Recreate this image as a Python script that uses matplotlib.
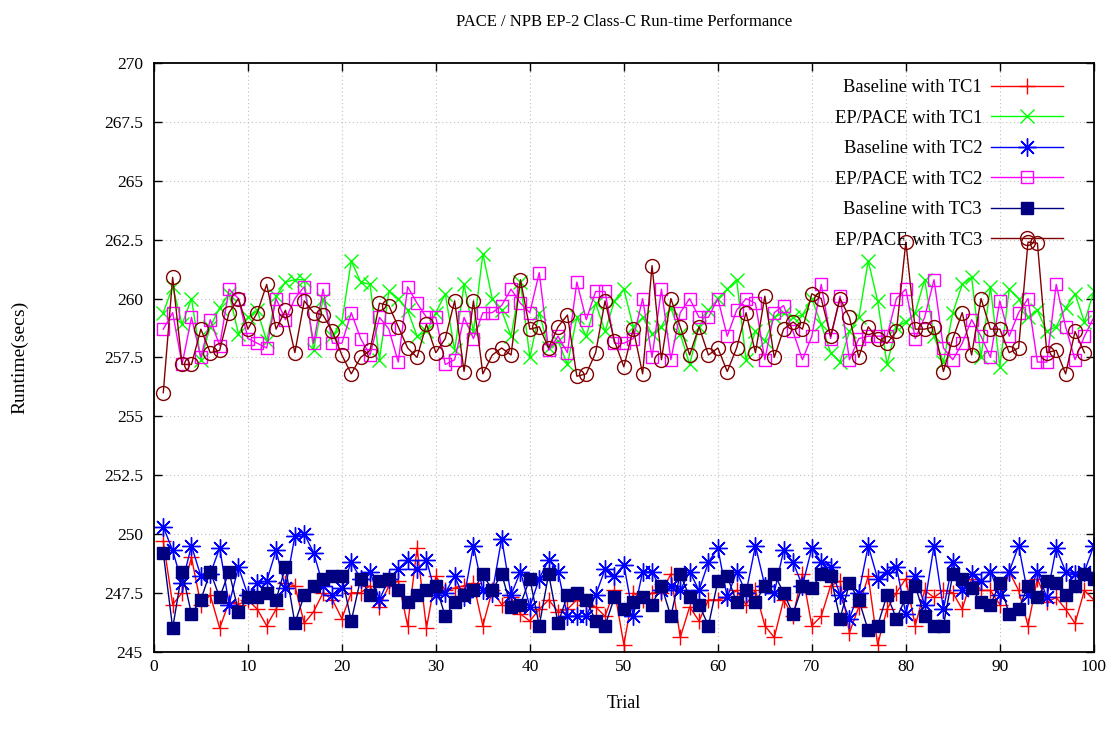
import matplotlib
matplotlib.use("Agg")
import matplotlib.pyplot as plt
from matplotlib.ticker import MultipleLocator, FormatStrFormatter

plt.rcParams['font.family'] = ['Liberation Serif', 'DejaVu Serif']

trials = list(range(1, 101))

base_tc1 = [249.7, 247.0, 247.5, 249.0, 247.0, 247.4, 246.0, 247.1, 247.0, 247.2,
            246.8, 246.1, 246.8, 247.9, 247.8, 246.2, 246.7, 247.5, 247.2, 246.4,
            247.5, 247.5, 247.8, 246.9, 247.8, 248.0, 246.1, 249.4, 246.0, 248.2,
            247.6, 247.7, 247.8, 247.9, 246.1, 247.6, 247.0, 247.3, 246.6, 246.3,
            246.8, 247.2, 246.7, 246.8, 247.2, 247.0, 246.9, 246.5, 247.6, 245.3,
            247.5, 247.2, 247.5, 247.5, 248.3, 245.6, 246.9, 246.3, 247.2, 247.2,
            247.3, 247.6, 247.0, 247.6, 246.1, 245.6, 247.2, 246.5, 248.3, 246.1,
            246.5, 247.8, 248.0, 245.8, 246.9, 248.2, 245.3, 246.8, 247.5, 248.1,
            246.1, 247.6, 247.3, 247.6, 247.5, 246.8, 248.1, 247.6, 247.6, 247.0,
            248.4, 247.6, 246.1, 248.1, 247.1, 247.3, 246.8, 246.2, 247.6, 247.2]

pace_tc1 = [259.4, 260.5, 258.9, 260.0, 257.4, 258.8, 259.6, 260.2, 258.5, 259.2,
            259.5, 258.2, 260.1, 260.7, 260.8, 260.8, 257.8, 260.0, 258.4, 259.0,
            261.6, 260.7, 260.6, 257.4, 260.3, 260.0, 259.5, 258.4, 258.6, 259.4,
            260.2, 257.8, 260.6, 258.6, 261.9, 260.0, 259.5, 258.4, 260.7, 257.5,
            259.4, 257.9, 258.2, 257.2, 259.2, 258.4, 259.8, 258.6, 259.9, 260.4,
            258.8, 259.2, 258.5, 258.8, 259.6, 258.5, 257.2, 258.8, 259.5, 260.0,
            260.4, 260.8, 257.4, 258.6, 258.2, 259.2, 259.4, 259.2, 259.3, 260.0,
            258.9, 257.7, 257.3, 258.6, 259.2, 261.6, 259.9, 257.2, 258.8, 259.0,
            259.4, 260.8, 258.4, 257.3, 259.4, 260.6, 260.9, 257.5, 260.5, 257.1,
            260.4, 260.0, 259.2, 259.5, 258.6, 258.8, 259.6, 260.2, 259.0, 260.3]

base_tc2 = [250.3, 249.3, 247.9, 249.5, 248.2, 248.3, 249.4, 247.0, 248.6, 247.4,
            247.9, 248.0, 249.3, 247.7, 249.9, 250.0, 249.2, 247.8, 247.4, 247.7,
            248.8, 248.1, 248.4, 247.2, 248.1, 248.5, 248.9, 248.5, 248.9, 247.4,
            247.5, 248.2, 247.3, 249.5, 247.6, 247.5, 249.8, 247.4, 248.4, 246.9,
            248.1, 248.9, 248.4, 246.5, 246.5, 246.5, 247.4, 248.5, 248.2, 248.7,
            246.5, 248.4, 248.4, 247.6, 247.8, 247.6, 248.4, 247.6, 248.8, 249.4,
            247.3, 248.4, 247.5, 249.5, 247.8, 247.5, 249.3, 248.8, 247.8, 249.4,
            248.8, 248.6, 247.4, 246.4, 247.5, 249.5, 248.1, 248.4, 248.6, 246.6,
            248.2, 247.0, 249.5, 246.8, 248.8, 247.6, 248.3, 248.0, 248.4, 247.4,
            248.4, 249.5, 247.4, 248.4, 247.3, 249.4, 248.4, 248.3, 248.4, 249.5]

pace_tc2 = [258.7, 259.4, 257.2, 259.2, 257.5, 259.1, 258.0, 260.4, 260.0, 258.3,
            258.1, 257.9, 260.0, 259.1, 260.0, 260.5, 258.1, 260.4, 258.1, 258.1,
            259.4, 258.3, 257.6, 259.2, 258.7, 257.3, 260.5, 259.8, 259.2, 259.2,
            257.2, 257.4, 259.2, 258.3, 259.4, 259.4, 259.7, 260.4, 259.8, 259.4,
            261.1, 257.8, 258.4, 257.7, 260.7, 259.1, 260.3, 260.3, 258.1, 258.1,
            258.3, 260.0, 257.5, 260.4, 257.4, 259.4, 260.0, 259.2, 259.2, 260.0,
            258.4, 259.5, 260.0, 259.8, 257.4, 259.4, 259.7, 258.6, 257.4, 258.4,
            260.6, 258.3, 260.1, 257.4, 258.3, 258.4, 258.4, 258.4, 260.0, 260.4,
            258.3, 259.2, 260.8, 257.9, 257.4, 258.1, 259.1, 258.4, 257.5, 259.9,
            258.4, 259.4, 260.0, 257.3, 257.3, 260.6, 258.8, 257.4, 258.4, 259.2]

base_tc3 = [249.2, 246.0, 248.4, 246.6, 247.2, 248.4, 247.3, 248.4, 246.7, 247.3,
            247.3, 247.5, 247.2, 248.6, 246.2, 247.4, 247.8, 248.1, 248.2, 248.2,
            246.3, 248.1, 247.4, 248.0, 248.1, 247.6, 247.1, 247.4, 247.6, 247.8,
            246.5, 247.1, 247.4, 247.6, 248.3, 247.6, 248.3, 246.9, 247.0, 248.1,
            246.1, 248.3, 246.2, 247.4, 247.5, 247.2, 246.3, 246.1, 247.3, 246.8,
            247.1, 247.3, 247.0, 247.8, 246.5, 248.3, 247.3, 247.0, 246.1, 248.0,
            248.2, 247.1, 247.6, 247.1, 247.8, 248.3, 247.5, 246.6, 247.8, 247.7,
            248.3, 248.2, 246.4, 247.9, 247.2, 245.9, 246.1, 247.4, 246.4, 247.3,
            247.8, 246.5, 246.1, 246.1, 248.3, 248.1, 247.7, 247.1, 247.0, 247.9,
            246.6, 246.8, 247.8, 247.3, 248.0, 247.9, 247.4, 247.8, 248.3, 248.1]

pace_tc3 = [256.0, 260.9, 257.2, 257.2, 258.7, 257.7, 257.8, 259.4, 260.0, 258.7,
            259.4, 260.6, 258.7, 259.5, 257.7, 259.9, 259.4, 259.3, 258.6, 257.6,
            256.8, 257.5, 257.8, 259.8, 259.7, 258.8, 257.9, 257.5, 258.9, 257.7,
            258.3, 259.9, 256.9, 259.9, 256.8, 257.6, 257.9, 257.6, 260.8, 258.7,
            258.8, 257.9, 258.8, 259.3, 256.7, 256.8, 257.7, 259.9, 258.2, 257.1,
            258.7, 256.8, 261.4, 257.4, 260.0, 258.8, 257.6, 258.8, 257.6, 257.9,
            256.9, 257.9, 259.4, 257.7, 260.1, 257.5, 258.7, 259.0, 258.7, 260.2,
            260.0, 258.4, 260.0, 259.2, 257.5, 258.8, 258.3, 258.1, 258.6, 262.4,
            258.7, 258.7, 258.8, 256.9, 258.3, 259.4, 257.6, 260.0, 258.7, 258.7,
            257.7, 257.9, 262.4, 262.35, 257.7, 257.8, 256.8, 258.6, 257.7]

fig = plt.figure(figsize=(11.15, 7.43), dpi=100)
ax = fig.add_axes([0.138, 0.123, 0.843, 0.792])

lw = 1.0
ax.plot(trials, base_tc1, color='#ff0000', lw=lw, marker='+', ms=12, mew=1.0,
        label='Baseline with TC1')
ax.plot(trials, pace_tc1, color='#00ff00', lw=lw, marker='x', ms=10, mew=1.0,
        label='EP/PACE with TC1')
ax.plot(trials, base_tc2, color='#0000ff', lw=lw, marker=(8, 2, 0), ms=13, mew=1.0,
        label='Baseline with TC2')
ax.plot(trials, pace_tc2, color='#ff00ff', lw=lw, marker='s', ms=8.5, mew=1.0,
        mfc='none', label='EP/PACE with TC2')
ax.plot(trials, base_tc3, color='#000080', lw=lw, marker='s', ms=9,
        label='Baseline with TC3')
ax.plot(trials[:len(pace_tc3)], pace_tc3, color='#800000', lw=lw, marker='o', ms=10,
        mew=1.0, mfc='none', label='EP/PACE with TC3')

ax.set_xlim(0, 100)
ax.set_ylim(245, 270)
ax.xaxis.set_major_locator(MultipleLocator(10))
ax.yaxis.set_major_locator(MultipleLocator(2.5))
ax.yaxis.set_major_formatter(FormatStrFormatter('%g'))
ax.tick_params(direction='in', length=6, width=1, top=True, right=True,
               labelsize=12.5)
ax.tick_params(axis='y', pad=8)
ax.tick_params(axis='x', pad=5)
for s in ax.spines.values():
    s.set_linewidth(1.3)
ax.grid(True, color='#c0c0c0', linestyle=(0, (1, 2.5)), linewidth=0.8)

ax.set_title('PACE / NPB EP-2 Class-C Run-time Performance', fontsize=12, pad=27)
ax.set_xlabel('Trial', fontsize=13, labelpad=15)
ax.set_ylabel('Runtime(secs)', fontsize=14, labelpad=54)

ax.legend(loc='upper right', bbox_to_anchor=(0.9755, 0.985), frameon=False,
          markerfirst=False, fontsize=13.3, handlelength=3.9, labelspacing=0.73,
          handletextpad=0.5, borderaxespad=0.0)

fig.savefig('out.png', dpi=100)
